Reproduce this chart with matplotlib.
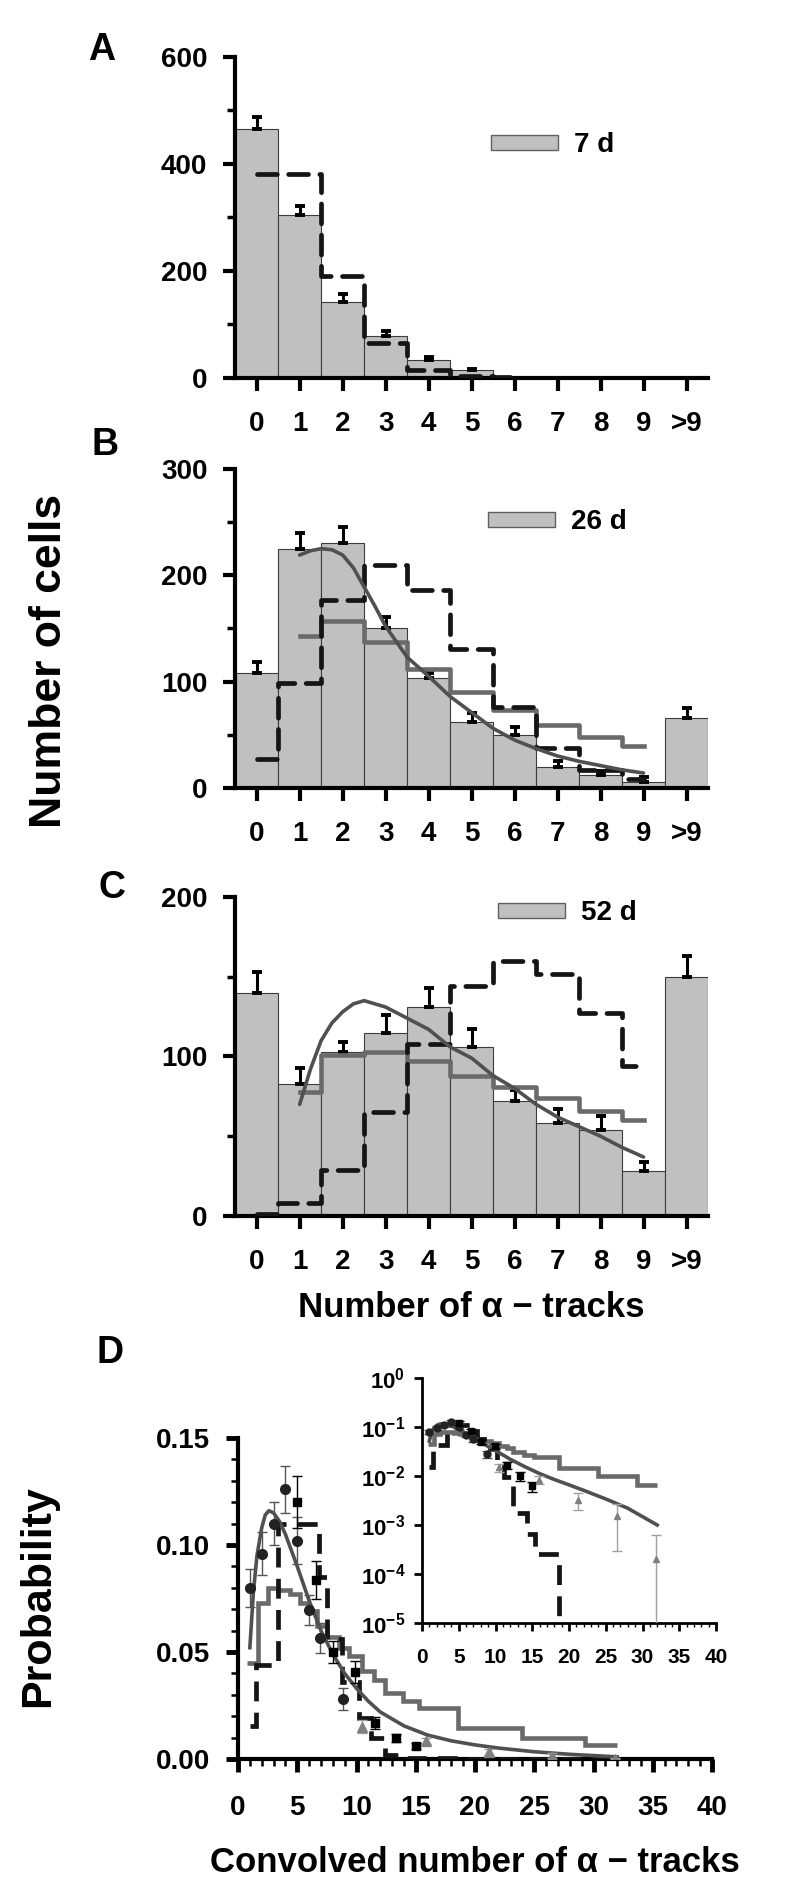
import numpy as np
import matplotlib.pyplot as plt
from matplotlib.patches import Patch
from matplotlib.ticker import MultipleLocator, LogLocator, NullFormatter, FormatStrFormatter

plt.rcParams['font.family'] = ['Liberation Sans', 'DejaVu Sans']
plt.rcParams['font.weight'] = 'bold'
plt.rcParams['mathtext.fontset'] = 'custom'
plt.rcParams['mathtext.rm'] = 'Liberation Sans:bold'
plt.rcParams['mathtext.bf'] = 'Liberation Sans:bold'

# ---- data ----
categories = ['0', '1', '2', '3', '4', '5', '6', '7', '8', '9', '>9']

# A: 7 d
bars_a = [465, 305, 142, 78, 34, 14, 2, 0, 0, 0, 0]
err_a = [23, 16, 15, 10, 5, 3, 0, 0, 0, 0, 0]
dash_a = [381, 381, 191, 65, 15, 3, 1]

# B: 26 d
bars_b = [108, 225, 230, 150, 103, 62, 50, 20, 12, 6, 66]
err_b = [10, 15, 15, 11, 5, 8, 7, 5, 4, 4, 9]
dash_b = [27, 99, 177, 210, 186, 131, 76, 38, 17, 8]
step_b = [143, 157, 137, 112, 90, 73, 59, 48, 39]
curve_b_x = [1.0, 1.25, 1.5, 1.75, 2.0, 2.25, 2.5, 2.75, 3.0, 3.5, 4.0, 4.5, 5.0,
             5.5, 6.0, 6.5, 7.0, 7.5, 8.0, 8.5, 9.0]
curve_b_y = [219, 223, 225, 224, 219, 207, 189, 171, 152, 123, 105, 86, 71,
             56, 45, 37, 30, 25, 21, 17, 14]

# C: 52 d
bars_c = [140, 83, 103, 115, 131, 106, 72, 58, 54, 28, 150]
err_c = [13, 10, 6, 11, 12, 11, 7, 9, 9, 6, 13]
dash_c = [1, 8, 29, 65, 108, 144, 160, 152, 127, 94]
step_c = [78, 101, 103, 97, 88, 81, 74, 66, 60]
curve_c_x = [1.0, 1.25, 1.5, 1.75, 2.0, 2.25, 2.5, 3.0, 3.5, 4.0, 4.5, 5.0, 5.5,
             6.0, 6.5, 7.0, 7.5, 8.0, 8.5, 9.0]
curve_c_y = [70, 92, 110, 121, 128, 133, 135, 131, 124, 117, 106, 99, 88,
             80, 70, 62, 56, 50, 43, 37]

# D: convolved distribution
step_d_edges = [0.8, 1.7, 2.5, 3.4, 4.4, 5.2, 5.9, 6.7, 7.5, 8.5, 9.4, 10.5, 11.5,
                12.4, 13.9, 15.3, 18.6, 24.0, 29.3, 32.0]
step_d_vals = [0.045, 0.073, 0.080, 0.079, 0.077, 0.073, 0.069, 0.062, 0.057, 0.052,
               0.048, 0.041, 0.037, 0.031, 0.027, 0.024, 0.0145, 0.010, 0.0065]
dash_d_edges = [1.0, 1.5, 3.4, 6.8, 7.5, 8.8, 10.2, 11.2, 12.4, 14.3, 15.4, 18.6, 32.0]
dash_d_vals = [0.0155, 0.044, 0.110, 0.085, 0.056, 0.036, 0.019, 0.0097, 0.0018,
               0.00066, 0.00026, 0.0]
curve_d_x = [1.0, 1.3, 1.6, 2.0, 2.3, 2.6, 3.0, 3.5, 4.0, 5.0, 6.0, 7.0, 8.0, 9.0,
             10.0, 11.0, 12.0, 14.0, 16.0, 18.0, 20.0, 22.0, 25.0, 28.0, 32.0]
curve_d_y = [0.052, 0.078, 0.095, 0.108, 0.114, 0.116, 0.115, 0.111, 0.105, 0.090,
             0.074, 0.060, 0.049, 0.040, 0.033, 0.027, 0.022, 0.0155, 0.0112, 0.0085,
             0.0066, 0.0051, 0.0034, 0.0022, 0.0010]
circ_x = [1.0, 2.0, 3.0, 4.0, 5.0, 6.0, 6.9, 8.9]
circ_y = [0.080, 0.096, 0.110, 0.126, 0.102, 0.0696, 0.0566, 0.028]
circ_e = [0.009, 0.010, 0.010, 0.011, 0.011, 0.007, 0.007, 0.005]
sq_x = [5.0, 6.6, 8.0, 9.9, 11.6, 13.3, 15.0]
sq_y = [0.120, 0.0836, 0.050, 0.0407, 0.0168, 0.0099, 0.0062]
sq_e = [0.012, 0.009, 0.005, 0.005, 0.003, 0.002, 0.0015]
tri_x = [10.5, 15.9, 21.2, 26.5, 31.8]
tri_y = [0.015, 0.0083, 0.0033, 0.0015, 0.0002]
tri_e = [0.003, 0.0015, 0.0013, 0.0012, 0.00042]

BAR = '#c0c0c0'
DASH = '#151515'
STEP = '#6a6a6a'
CURVE = '#505050'

fig = plt.figure(figsize=(8, 19), dpi=100)


def style_axes(ax, lw=3.0):
    for s in ['top', 'right']:
        ax.spines[s].set_visible(False)
    for s in ['left', 'bottom']:
        ax.spines[s].set_linewidth(lw)


def hist_panel(rect, bars, errs, ymax, ymajor, dash, step=None, cx=None, cy=None,
               label='', letter='', letter_pos=(0, 0), leg_pos=(0, 0)):
    ax = fig.add_axes(rect)
    x = np.arange(len(categories))
    ax.bar(x, bars, width=1.0, color=BAR, edgecolor='#3c3c3c', linewidth=0.8, zorder=1)
    e = np.array(errs)
    m = e > 0
    ax.errorbar(x[m], np.array(bars)[m], yerr=[np.zeros(m.sum()), e[m]], fmt='none',
                ecolor='black', elinewidth=2.2, capsize=3.5, capthick=2.8, zorder=2)
    ax.plot(np.arange(len(dash)), dash, drawstyle='steps-mid', color=DASH, lw=3.4,
            dashes=(4.2, 2.4), dash_capstyle='round', zorder=4)
    if step is not None:
        ax.plot(np.arange(1, len(step) + 1), step, drawstyle='steps-mid', color=STEP,
                lw=3.3, zorder=3)
        ax.plot(cx, cy, color=CURVE, lw=2.6, zorder=5, solid_capstyle='round')
    ax.set_xlim(-0.5, 10.5)
    ax.set_ylim(0, ymax)
    ax.set_xticks(x)
    ax.set_xticklabels(categories)
    ax.set_yticks(np.arange(0, ymax + 1, ymajor))
    ax.yaxis.set_minor_locator(MultipleLocator(ymajor / 2))
    ax.tick_params(axis='both', which='major', length=9, width=3, labelsize=20)
    ax.tick_params(axis='x', pad=15)
    ax.tick_params(axis='y', pad=11)
    ax.tick_params(axis='y', which='minor', length=6, width=2.5)
    style_axes(ax)
    ax.legend([Patch(facecolor=BAR, edgecolor='#606060', linewidth=1)], [label],
              loc='center left', bbox_to_anchor=leg_pos, bbox_transform=fig.transFigure,
              frameon=False, fontsize=20, handlelength=2.4, handleheight=0.45,
              handletextpad=0.6, borderpad=0, borderaxespad=0)
    fig.text(letter_pos[0], letter_pos[1], letter, fontsize=27, fontweight='bold',
             ha='left', va='baseline')
    return ax


hist_panel([0.294, 0.8011, 0.591, 0.1689], bars_a, err_a, 600, 200, dash_a,
           label='7 d', letter='A', letter_pos=(0.11, 0.9684),
           leg_pos=(491 / 800, 1 - 145 / 1900))
hist_panel([0.294, 0.5853, 0.591, 0.1679], bars_b, err_b, 300, 100, dash_b,
           step_b, curve_b_x, curve_b_y,
           label='26 d', letter='B', letter_pos=(0.115, 0.7605),
           leg_pos=(488 / 800, 1 - 522 / 1900))
hist_panel([0.294, 0.36, 0.591, 0.1679], bars_c, err_c, 200, 100, dash_c,
           step_c, curve_c_x, curve_c_y,
           label='52 d', letter='C', letter_pos=(0.1225, 0.5274),
           leg_pos=(498 / 800, 1 - 913 / 1900))

fig.text(0.062, 0.652, 'Number of cells', rotation=90, fontsize=32, fontweight='bold',
         ha='center', va='center')
fig.text(0.589, 0.312, 'Number of α − tracks', fontsize=25, fontweight='bold',
         ha='center', va='center')


def draw_d(ax, log=False, ms=7):
    dv = np.array(dash_d_vals)
    if log:
        dv = np.maximum(dv, 1e-8)
    ax.stairs(step_d_vals, step_d_edges, baseline=None, color=STEP, lw=3.3, zorder=3)
    ax.stairs(dv, dash_d_edges, baseline=None, color=DASH, lw=3.4, zorder=4,
              linestyle=(0, (4.2, 2.4)))
    ax.plot(curve_d_x, curve_d_y, color=CURVE, lw=2.6, zorder=5)
    ax.errorbar(circ_x, circ_y, yerr=circ_e, fmt='o', color='#222222', ms=ms,
                ecolor='#555555', elinewidth=1, capsize=3.5, capthick=1, zorder=6)
    ax.errorbar(sq_x, sq_y, yerr=sq_e, fmt='s', color='black', ms=ms - 1,
                ecolor='black', elinewidth=1, capsize=3.5, capthick=1, zorder=6)
    ax.errorbar(tri_x, tri_y, yerr=tri_e, fmt='^', color='#808080', ms=ms,
                ecolor='#a0a0a0', elinewidth=1, capsize=3.5, capthick=1, zorder=6)


axd = fig.add_axes([0.2975, 0.0742, 0.5925, 0.169])
draw_d(axd)
axd.set_xlim(0, 40)
axd.set_ylim(0, 0.15)
axd.set_xticks(np.arange(0, 41, 5))
axd.set_yticks([0, 0.05, 0.10, 0.15])
axd.yaxis.set_major_formatter(FormatStrFormatter('%.2f'))
axd.xaxis.set_minor_locator(MultipleLocator(1))
axd.yaxis.set_minor_locator(MultipleLocator(0.01))
axd.tick_params(axis='both', which='major', length=9, width=3.5, labelsize=20)
axd.tick_params(axis='both', which='minor', length=5, width=1.8)
axd.tick_params(axis='x', pad=17)
axd.tick_params(axis='y', pad=11)
style_axes(axd)

axi = fig.add_axes([0.5275, 0.1458, 0.3675, 0.1289])
axi.set_facecolor('none')
axi.set_yscale('log')
draw_d(axi, log=True, ms=5)
axi.set_xlim(0, 40)
axi.set_ylim(1e-5, 1)
axi.set_xticks(np.arange(0, 41, 5))
axi.xaxis.set_minor_locator(MultipleLocator(1))
axi.set_yticks([1e0, 1e-1, 1e-2, 1e-3, 1e-4, 1e-5])
axi.set_yticklabels(['$10^{0}$', '$10^{-1}$', '$10^{-2}$', '$10^{-3}$',
                     '$10^{-4}$', '$10^{-5}$'])
axi.yaxis.set_minor_locator(LogLocator(base=10, subs=np.arange(2, 10)))
axi.yaxis.set_minor_formatter(NullFormatter())
axi.tick_params(axis='both', which='major', length=6, width=2, labelsize=15)
axi.tick_params(axis='y', labelsize=16, pad=6)
axi.tick_params(axis='x', pad=12)
axi.tick_params(axis='both', which='minor', length=3, width=1)
style_axes(axi, lw=2)

fig.text(0.121, 0.2826, 'D', fontsize=27, fontweight='bold', ha='left', va='baseline')
fig.text(0.048, 0.16, 'Probability', rotation=90, fontsize=31, fontweight='bold',
         ha='center', va='center')
fig.text(0.594, 0.02, 'Convolved number of α − tracks', fontsize=25, fontweight='bold',
         ha='center', va='center')

fig.savefig('out.png', dpi=100)
